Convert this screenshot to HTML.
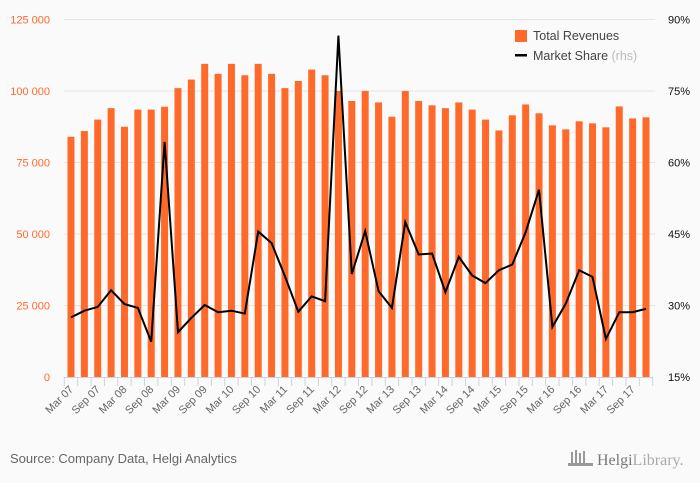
<!DOCTYPE html>
<html><head><meta charset="utf-8"><style>
html,body{margin:0;padding:0;background:#fafafa;}
svg{display:block;font-family:"Liberation Sans",sans-serif;}
</style></head><body>
<svg id="chart" width="700" height="483" viewBox="0 0 700 483">
<rect x="0" y="0" width="700" height="483" fill="#fafafa"/>
<g id="grid"></g>
<g id="bars"></g>
<g id="line"></g>
<g id="axes"></g>
<g>
<rect x="515" y="30" width="12" height="12" fill="#ff6a2a"/>
<text x="533" y="40" font-size="12.5" fill="#444">Total Revenues</text>
<rect x="515" y="54" width="12" height="2.5" fill="#000"/>
<text x="533" y="60" font-size="12.5" fill="#444">Market Share <tspan fill="#bbb">(rhs)</tspan></text>
</g>
<text x="10" y="463" font-size="13" fill="#666">Source: Company Data, Helgi Analytics</text>
<g>
<rect x="571" y="452" width="2" height="14" fill="#999"/><rect x="575" y="450" width="2" height="16" fill="#999"/><rect x="579" y="453" width="2" height="13" fill="#999"/><rect x="583" y="451" width="2" height="15" fill="#999"/><rect x="568" y="463" width="25" height="3" fill="#999"/>
<text x="597" y="465" font-size="16" fill="#777" font-family="Liberation Serif,serif">Helgi<tspan fill="#aaa">Library.</tspan></text>
</g>
</svg>
<script>
const categories=[];
const years=['07','08','09','10','11','12','13','14','15','16','17'];
const quarters=['Mar','Jun','Sep','Dec'];
for(const y of years){for(const q of quarters){categories.push(q+' '+y);}}
const revenues=[84000,86000,90000,94000,87500,93500,93500,94500,101000,104000,109500,106000,109500,105500,109500,106000,101000,103500,107500,105500,100000,96500,100000,96000,91000,100000,96500,95000,94000,96000,93500,90000,86200,91500,95300,92200,88000,86600,89400,88700,87300,94600,90400,90800];
const marketShare=[27.5,28.9,29.7,33.2,30.3,29.5,22.4,64.3,24.4,27.4,30.1,28.6,28.9,28.3,45.5,43.1,36.1,28.7,31.9,30.9,86.6,36.6,45.6,33.0,29.5,47.5,40.7,40.9,32.8,40.2,36.3,34.7,37.4,38.6,45.4,54.3,25.5,30.4,37.4,36.0,23.0,28.6,28.6,29.3];
const leftTicks=[0,25000,50000,75000,100000,125000];
const leftTickLabels=['0','25 000','50 000','75 000','100 000','125 000'];
const rightTicks=[15,30,45,60,75,90];
const rightTickLabels=['15%','30%','45%','60%','75%','90%'];

const NS='http://www.w3.org/2000/svg';
const X0=64.3,X1=652.7,Y0=377,Y1=19.5;
const band=(X1-X0)/categories.length;
const xc=i=>X0+band*(i+0.5);
const yL=v=>Y0-(v/125000)*(Y0-Y1);
const yR=v=>Y0-((v-15)/75)*(Y0-Y1);
function mk(tag,attrs,parent){const e=document.createElementNS(NS,tag);for(const k in attrs)e.setAttribute(k,attrs[k]);parent.appendChild(e);return e;}
const grid=document.getElementById('grid'),bars=document.getElementById('bars'),line=document.getElementById('line'),axes=document.getElementById('axes');
leftTicks.forEach((t,i)=>{
  if(t>0){const g=mk('line',{x1:X0,x2:655,y1:yL(t),y2:yL(t),stroke:'#e4e4e4','stroke-width':1},grid);
  
  }
  const tx=mk('text',{x:50,y:yL(t)+4,'text-anchor':'end','font-size':11,fill:'#ff6a2a'},axes);
  tx.textContent=leftTickLabels[i];
  
  
});
rightTicks.forEach((t,i)=>{
  const tx=mk('text',{x:690,y:yR(t)+4,'text-anchor':'end','font-size':11,fill:'#111'},axes);
  tx.textContent=rightTickLabels[i];
  
  
});
revenues.forEach((v,i)=>{
  const r=mk('rect',{x:xc(i)-3.5,y:yL(v),width:7,height:Y0-yL(v),fill:'#ff6a2a'},bars);
  
  
});
const pts=marketShare.map((v,i)=>xc(i).toFixed(1)+','+yR(v).toFixed(1)).join(' ');
const pl=mk('polyline',{points:pts,fill:'none',stroke:'#000','stroke-width':2,'stroke-linejoin':'miter'},line);


const ax=mk('line',{x1:X0,x2:X1,y1:Y0+0.5,y2:Y0+0.5,stroke:'#c8d4e6','stroke-width':1},axes);


for(let i=0;i<=categories.length;i++){
  const x=X0+band*i;
  const tk=mk('line',{x1:x,x2:x,y1:Y0,y2:Y0+9,stroke:'#c8d4e6','stroke-width':1},axes);
  
  
}
categories.forEach((c,i)=>{
  if(i%2!==0)return;
  const x=xc(i)+3,y=390;
  const tx=mk('text',{x:x,y:y,'text-anchor':'end','font-size':11,fill:'#666',transform:'rotate(-45 '+x+' '+y+')'},axes);
  tx.textContent=c;
  
  
});
</script>
</body></html>
